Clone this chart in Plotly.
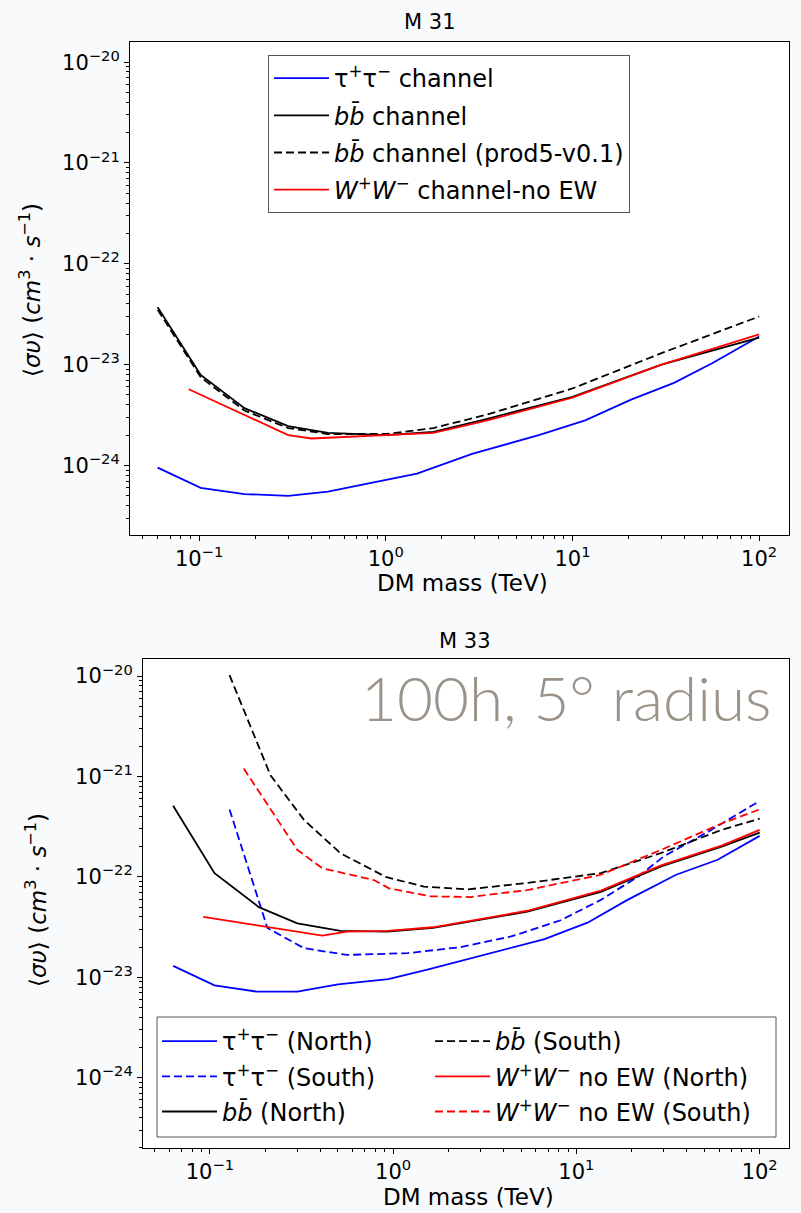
import plotly.graph_objects as go

# ---------------- data: M 31 ----------------
m31_tau_x = [0.060, 0.102, 0.175, 0.30, 0.49, 0.9, 1.47, 2.9, 6.6, 11.7, 20.6, 35, 56, 100]
m31_tau_y = [9.5e-25, 6.0e-25, 5.2e-25, 5.0e-25, 5.5e-25, 6.9e-25, 8.3e-25, 1.3e-24, 2.0e-24, 2.8e-24, 4.5e-24, 6.6e-24, 1.03e-23, 1.9e-23]

m31_bb_x = [0.060, 0.102, 0.175, 0.30, 0.49, 1.0, 1.8, 3.5, 10, 30, 100]
m31_bb_y = [3.7e-23, 7.9e-24, 3.7e-24, 2.45e-24, 2.1e-24, 2.0e-24, 2.15e-24, 2.9e-24, 4.8e-24, 1.0e-23, 1.85e-23]

m31_bb5_x = [0.060, 0.102, 0.175, 0.30, 0.49, 1.0, 1.8, 3.5, 10, 30, 100]
m31_bb5_y = [3.5e-23, 7.5e-24, 3.5e-24, 2.35e-24, 2.05e-24, 2.05e-24, 2.35e-24, 3.2e-24, 5.8e-24, 1.3e-23, 3.0e-23]

m31_ww_x = [0.088, 0.30, 0.40, 1.0, 1.8, 3.5, 10, 30, 100]
m31_ww_y = [5.7e-24, 2.0e-24, 1.85e-24, 2.0e-24, 2.1e-24, 2.8e-24, 4.7e-24, 1.0e-23, 2.0e-23]

# ---------------- data: M 33 ----------------
m33_tau_n_x = [0.063, 0.106, 0.18, 0.30, 0.5, 0.94, 1.5, 3.2, 6.7, 11.5, 19, 35, 59, 100]
m33_tau_n_y = [1.3e-23, 8.3e-24, 7.2e-24, 7.2e-24, 8.5e-24, 9.6e-24, 1.18e-23, 1.7e-23, 2.4e-23, 3.5e-23, 5.9e-23, 1.05e-22, 1.48e-22, 2.56e-22]

m33_tau_s_x = [0.128, 0.206, 0.326, 0.56, 1.2, 2.34, 4.4, 8.2, 13.6, 21.6, 30, 52, 100]
m33_tau_s_y = [4.7e-22, 3.1e-23, 1.95e-23, 1.67e-23, 1.74e-23, 2.0e-23, 2.55e-23, 3.7e-23, 5.9e-23, 1.0e-22, 1.6e-22, 2.8e-22, 5.7e-22]

m33_bb_n_x = [0.063, 0.106, 0.185, 0.30, 0.516, 0.93, 1.65, 2.65, 5.4, 13.6, 29, 62, 100]
m33_bb_n_y = [5.1e-22, 1.09e-22, 5.0e-23, 3.45e-23, 2.9e-23, 2.85e-23, 3.1e-23, 3.6e-23, 4.5e-23, 7.1e-23, 1.27e-22, 2.0e-22, 2.76e-22]

m33_bb_s_x = [0.128, 0.214, 0.326, 0.516, 0.91, 1.47, 2.54, 5.4, 13.6, 29, 62, 100]
m33_bb_s_y = [1.02e-20, 1.03e-21, 3.7e-22, 1.72e-22, 1.0e-22, 8.0e-23, 7.5e-23, 8.7e-23, 1.09e-22, 1.73e-22, 2.94e-22, 3.8e-22]

m33_ww_n_x = [0.092, 0.41, 0.56, 0.93, 1.65, 2.65, 5.4, 13.6, 29, 62, 100]
m33_ww_n_y = [4.0e-23, 2.6e-23, 2.85e-23, 2.9e-23, 3.15e-23, 3.65e-23, 4.6e-23, 7.3e-23, 1.3e-22, 2.05e-22, 2.94e-22]

m33_ww_s_x = [0.153, 0.30, 0.41, 0.785, 0.95, 1.6, 2.65, 5.4, 13.6, 29, 62, 100]
m33_ww_s_y = [1.2e-21, 1.86e-22, 1.22e-22, 9.3e-23, 7.7e-23, 6.4e-23, 6.3e-23, 7.4e-23, 1.05e-22, 1.86e-22, 3.4e-22, 4.7e-22]

# ---------------- tick labels ----------------
x_tickvals = [0.1, 1, 10, 100]
x_ticktext = ["10<sup>−1</sup>", "10<sup>0</sup>", "10<sup>1</sup>", "10<sup>2</sup>"]
y_tickvals = [1e-24, 1e-23, 1e-22, 1e-21, 1e-20]
y_ticktext = ["10<sup>−24</sup>", "10<sup>−23</sup>", "10<sup>−22</sup>", "10<sup>−21</sup>", "10<sup>−20</sup>"]
x_minor = [m * 10.0 ** e for e in range(-2, 3) for m in range(2, 10)]
y_minor = [m * 10.0 ** e for e in range(-25, -19) for m in range(2, 10)]

BB = "<i>b</i><i>b̄</i>"
TT = "τ<sup>+</sup>τ<sup>−</sup>"
WW = "<i>W</i><sup>+</sup><i>W</i><sup>−</sup>"

W, H = 801, 1213
FONT = "DejaVu Sans"
FS_TICK = 21
FS_LAB = 23
FS_LEG = 24
DASH = "8px,4px"
LW = 1.8

fig = go.Figure()

top = [
    (m31_tau_x, m31_tau_y, "blue", "solid", TT + " channel"),
    (m31_bb_x, m31_bb_y, "black", "solid", BB + " channel"),
    (m31_bb5_x, m31_bb5_y, "black", DASH, BB + " channel (prod5-v0.1)"),
    (m31_ww_x, m31_ww_y, "red", "solid", WW + " channel-no EW"),
]
for i, (x, y, c, d, name) in enumerate(top):
    fig.add_trace(go.Scatter(x=x, y=y, mode="lines", name=name,
                             line=dict(color=c, dash=d, width=LW),
                             xaxis="x", yaxis="y", legend="legend",
                             legendgroup="t%d" % i))

bot = [
    (m33_tau_n_x, m33_tau_n_y, "blue", "solid", TT + " (North)", "legend2"),
    (m33_tau_s_x, m33_tau_s_y, "blue", DASH, TT + " (South)", "legend2"),
    (m33_bb_n_x, m33_bb_n_y, "black", "solid", BB + " (North)", "legend2"),
    (m33_bb_s_x, m33_bb_s_y, "black", DASH, BB + " (South)", "legend3"),
    (m33_ww_n_x, m33_ww_n_y, "red", "solid", WW + " no EW (North)", "legend3"),
    (m33_ww_s_x, m33_ww_s_y, "red", DASH, WW + " no EW (South)", "legend3"),
]
for i, (x, y, c, d, name, lg) in enumerate(bot):
    fig.add_trace(go.Scatter(x=x, y=y, mode="lines", name=name,
                             line=dict(color=c, dash=d, width=LW),
                             xaxis="x2", yaxis="y2", legend=lg,
                             legendgroup="b%d" % i))


def px_x(p):
    return p / W


def px_y(p):
    return 1 - p / H


axis_common = dict(
    type="log", showgrid=False, zeroline=False,
    showline=True, linecolor="black", linewidth=1, mirror=True,
    ticks="outside", ticklen=5, tickwidth=1, tickcolor="black",
    tickfont=dict(family=FONT, size=FS_TICK, color="black"),
)
xax = dict(axis_common, tickmode="array", tickvals=x_tickvals, ticktext=x_ticktext,
           minor=dict(tickmode="array", tickvals=x_minor, ticks="outside", ticklen=3,
                      tickwidth=1, tickcolor="black", showgrid=False))
yax = dict(axis_common, tickmode="array", tickvals=y_tickvals, ticktext=y_ticktext,
           minor=dict(tickmode="array", tickvals=y_minor, ticks="outside", ticklen=3,
                      tickwidth=1, tickcolor="black", showgrid=False))

leg_common = dict(xanchor="left", yanchor="top", font=dict(family=FONT, size=FS_LEG),
                  itemwidth=55)

fig.update_layout(
    width=W, height=H,
    margin=dict(l=0, r=0, t=0, b=0),
    paper_bgcolor="#f9fafb",
    plot_bgcolor="white",
    font=dict(family=FONT, size=FS_TICK, color="black"),
    xaxis=dict(xax, domain=[px_x(130), px_x(789)], range=[-1.37, 2.16], anchor="y"),
    yaxis=dict(yax, domain=[px_y(535), px_y(42)], range=[-24.69, -19.8], anchor="x"),
    xaxis2=dict(xax, domain=[px_x(143), px_x(789)], range=[-1.365, 2.16], anchor="y2"),
    yaxis2=dict(yax, domain=[px_y(1148), px_y(659)], range=[-24.70, -19.83], anchor="x2"),
    legend=dict(leg_common, x=px_x(268), y=px_y(55),
                bgcolor="white", bordercolor="#555", borderwidth=1, tracegroupgap=3),
    legend2=dict(leg_common, x=px_x(157), y=px_y(1019),
                 bgcolor="rgba(0,0,0,0)", borderwidth=0, tracegroupgap=1),
    legend3=dict(leg_common, x=px_x(430), y=px_y(1019),
                 bgcolor="rgba(0,0,0,0)", borderwidth=0, tracegroupgap=1),
    showlegend=True,
    shapes=[dict(type="rect", xref="paper", yref="paper",
                 x0=px_x(157), x1=px_x(776), y0=px_y(1137), y1=px_y(1017),
                 fillcolor="white", line=dict(color="#555", width=1), layer="above")],
)

YLAB = "⟨<i>συ</i>⟩ (<i>cm</i><sup>3</sup> · <i>s</i><sup>−1</sup>)"
ann = [
    dict(text="M 31", x=px_x(430), y=px_y(22), font=dict(size=21)),
    dict(text="M 33", x=px_x(465), y=px_y(641), font=dict(size=21)),
    dict(text="DM mass (TeV)", x=px_x(462), y=px_y(583), font=dict(size=FS_LAB)),
    dict(text="DM mass (TeV)", x=px_x(468), y=px_y(1197), font=dict(size=FS_LAB)),
    dict(text=YLAB, x=px_x(30), y=px_y(290), textangle=-90, font=dict(size=FS_LAB)),
    dict(text=YLAB, x=px_x(36), y=px_y(900), textangle=-90, font=dict(size=FS_LAB)),
    dict(text="100h, 5° radius", x=px_x(566), y=px_y(697),
         font=dict(family="Lato", size=62, color="#9b938a", weight=300)),
]
for a in ann:
    a.update(xref="paper", yref="paper", showarrow=False, xanchor="center", yanchor="middle")
    a["font"].setdefault("family", FONT)
    a["font"].setdefault("color", "black")
fig.update_layout(annotations=ann)

fig.write_html("out.html", config={"displayModeBar": False},
               post_script="document.body.style.margin='0';")
